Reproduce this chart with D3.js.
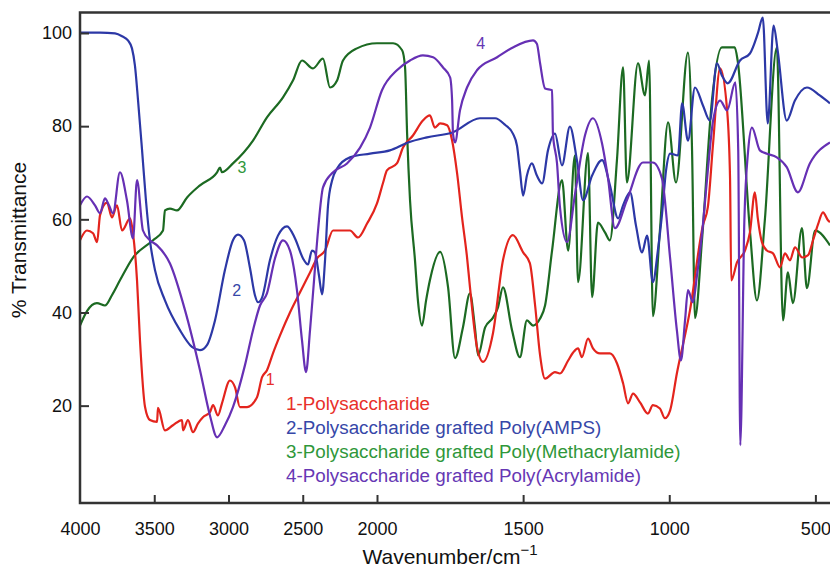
<!DOCTYPE html>
<html lang="en">
<head>
    <meta charset="UTF-8">
    <title>FTIR spectra</title>
    <style>
        body{
            margin: 0;
            overflow: hidden;
            background: #fff;
        }
        text{
            font-family: "Liberation Sans", Arial, Helvetica, sans-serif;
        }
    </style>
</head>
<body>
    <script src="https://d3js.org/d3.v7.min.js"></script>
    <script>
        // spectra: [wavenumber (cm-1), % transmittance]
        const polysaccharide = [
            [4000,55.5],[3953,57.6],[3912,57.0],[3885,55.1],[3865,60.9],[3818,63.6],[3785,60.4],[3751,63.0],
            [3717,57.6],[3663,60.2],[3643,57.0],[3616,46.9],[3596,34.0],[3562,19.7],[3529,16.9],[3481,16.5],
            [3475,19.5],[3428,14.7],[3374,15.8],[3313,16.9],[3306,14.7],[3273,16.9],[3239,14.3],[3205,16.2],
            [3172,17.5],[3125,18.6],[3104,20.1],[3071,17.9],[3044,20.5],[2990,25.4],[2956,23.9],[2923,19.7],
            [2875,19.7],[2808,21.8],[2774,26.1],[2741,27.6],[2700,31.3],[2653,35.1],[2586,40.0],[2519,44.3],
            [2451,48.6],[2404,51.6],[2350,53.3],[2296,57.6],[2236,57.6],[2182,57.6],[2128,56.1],[2067,59.1],
            [2000,63.4],[1979,67.9],[1966,70.5],[1932,72.0],[1911,75.4],[1877,78.0],[1843,81.2],[1819,82.3],
            [1802,79.7],[1784,80.6],[1760,80.2],[1743,76.9],[1726,69.9],[1709,60.4],[1692,51.9],[1682,45.5],
            [1658,32.6],[1637,29.4],[1603,35.6],[1569,51.2],[1535,56.6],[1500,52.9],[1477,50.6],[1459,41.5],
            [1442,30.8],[1425,25.8],[1391,27.2],[1374,26.9],[1346,29.7],[1329,31.4],[1312,32.3],[1299,30.4],
            [1278,34.4],[1261,32.3],[1237,31.2],[1203,31.2],[1179,29.1],[1158,24.8],[1141,20.5],[1124,22.6],
            [1100,20.7],[1073,18.3],[1056,20.1],[1032,19.4],[1015,17.3],[997,19.0],[974,26.9],[929,40.5],
            [885,58.7],[868,62.6],[850,76.3],[826,92.4],[802,83.4],[792,68.8],[788,46.9],[768,50.8],
            [741,53.3],[724,57.2],[707,65.8],[697,60.2],[683,55.1],[666,53.3],[645,52.7],[621,49.7],
            [604,52.7],[587,51.2],[570,54.0],[545,51.8],[525,52.3],[508,55.5],[491,58.9],[474,61.5],
            [457,59.8],[450,59.4]
        ];
        const gAmps = [
            [4000,100.1],[3865,100.1],[3764,99.9],[3717,99.3],[3677,98.4],[3650,96.7],[3630,93.0],[3609,85.5],
            [3582,74.8],[3556,64.1],[3529,55.5],[3495,49.1],[3428,42.6],[3327,36.2],[3246,32.6],[3192,31.9],
            [3145,33.0],[3091,38.3],[3024,49.1],[2970,55.5],[2936,56.7],[2896,55.5],[2855,49.5],[2822,43.7],
            [2801,42.2],[2774,43.2],[2721,51.2],[2667,56.5],[2606,58.5],[2552,55.9],[2498,51.6],[2465,50.3],
            [2438,53.3],[2418,52.9],[2391,48.0],[2370,43.9],[2350,51.2],[2330,62.9],[2303,68.3],[2269,70.9],
            [2182,73.3],[2047,74.1],[1956,74.8],[1894,76.5],[1829,77.6],[1740,78.7],[1648,81.7],[1596,81.7],
            [1562,80.3],[1535,78.4],[1521,75.8],[1511,70.5],[1500,65.1],[1487,69.4],[1470,72.0],[1453,69.4],
            [1435,67.7],[1415,74.8],[1391,78.4],[1367,71.6],[1340,79.9],[1316,72.7],[1295,64.1],[1264,69.4],
            [1230,72.7],[1203,67.3],[1175,60.2],[1158,63.0],[1134,65.8],[1114,58.7],[1093,52.9],[1076,56.5],
            [1056,46.5],[1039,53.3],[1025,60.9],[1011,70.5],[997,74.1],[970,73.7],[956,84.9],[936,76.9],
            [912,88.3],[885,84.5],[861,81.2],[837,93.5],[820,90.9],[800,89.2],[758,94.1],[724,95.6],
            [697,99.9],[680,103.3],[663,80.6],[643,101.6],[629,96.2],[598,81.2],[570,85.5],[529,88.3],
            [485,86.6],[450,84.9]
        ];
        const gMethacrylamide = [
            [4000,37.2],[3953,40.3],[3886,42.0],[3832,41.5],[3785,43.7],[3731,46.9],[3643,51.8],[3508,55.5],
            [3441,57.6],[3428,61.9],[3394,62.3],[3347,61.9],[3279,64.7],[3192,67.3],[3077,70.1],[3057,71.1],
            [3044,70.1],[2970,72.0],[2835,76.9],[2741,81.9],[2633,86.2],[2566,89.8],[2505,94.1],[2431,92.4],
            [2364,94.5],[2316,88.3],[2269,89.8],[2229,94.1],[2135,96.7],[2000,97.8],[1945,97.8],[1914,96.3],
            [1904,92.6],[1897,78.4],[1887,64.1],[1870,51.2],[1860,42.6],[1846,37.2],[1832,42.6],[1819,46.9],
            [1784,53.0],[1757,45.5],[1733,30.2],[1706,36.8],[1682,44.1],[1665,36.8],[1654,30.8],[1630,36.8],
            [1603,38.9],[1586,41.1],[1569,45.4],[1538,36.2],[1511,30.4],[1487,38.3],[1466,37.2],[1442,38.7],
            [1425,41.5],[1401,53.3],[1367,68.4],[1346,53.3],[1323,73.7],[1312,46.5],[1278,74.2],[1264,43.3],
            [1244,59.3],[1220,57.2],[1203,55.5],[1179,72.7],[1158,92.6],[1145,67.9],[1107,93.5],[1083,86.6],
            [1069,94.1],[1056,39.2],[1032,57.6],[1004,80.8],[977,67.9],[936,95.8],[922,74.8],[912,38.8],
            [888,55.5],[854,85.5],[820,96.9],[776,96.9],[766,94.1],[724,57.6],[700,42.6],[673,59.8],
            [632,96.9],[611,38.3],[594,48.6],[577,42.0],[546,58.1],[529,45.2],[501,57.6],[450,54.4]
        ];
        const gAcrylamide = [
            [4000,63.0],[3953,64.9],[3899,63.0],[3865,61.3],[3832,64.5],[3805,63.0],[3778,61.3],[3731,70.1],
            [3684,64.1],[3643,55.9],[3616,68.4],[3576,57.6],[3529,55.5],[3481,54.4],[3394,50.5],[3293,40.5],
            [3192,27.6],[3125,17.9],[3077,13.2],[3024,15.8],[2970,19.7],[2889,28.7],[2835,36.2],[2788,41.5],
            [2741,44.1],[2687,51.6],[2633,55.5],[2586,53.3],[2539,44.8],[2505,34.0],[2478,27.2],[2451,36.2],
            [2424,46.9],[2397,57.6],[2364,66.8],[2303,69.9],[2202,72.0],[2114,75.4],[2047,79.7],[1983,87.7],
            [1932,92.0],[1887,94.1],[1843,95.2],[1808,94.8],[1774,92.6],[1750,90.5],[1743,85.5],[1740,78.4],
            [1733,76.5],[1716,83.4],[1692,88.3],[1658,92.0],[1589,94.8],[1535,96.9],[1466,98.4],[1453,97.7],
            [1442,93.5],[1425,88.1],[1401,87.7],[1398,78.4],[1384,72.0],[1374,62.6],[1350,55.1],[1322,65.6],
            [1288,78.1],[1261,81.7],[1230,76.3],[1210,69.0],[1186,58.1],[1145,64.1],[1090,72.2],[1056,72.2],
            [1025,68.8],[997,51.6],[974,36.2],[960,29.7],[946,38.3],[936,44.8],[919,42.2],[905,48.0],
            [885,58.7],[868,70.5],[850,81.2],[826,85.5],[802,83.4],[774,89.4],[764,74.8],[757,11.5],
            [743,59.8],[730,74.8],[717,79.7],[690,74.8],[666,74.1],[632,73.3],[598,71.2],[560,65.8],
            [519,72.0],[450,76.5]
        ];

        const seriesNames = [
            '1-Polysaccharide',
            '2-Polysaccharide grafted Poly(AMPS)',
            '3-Polysaccharide grafted Poly(Methacrylamide)',
            '4-Polysaccharide grafted Poly(Acrylamide)'
        ];
        const xTicks = [4000, 3500, 3000, 2500, 2000, 1500, 1000, 500];
        const yTicks = [20, 40, 60, 80, 100];

        const lineColors = ['#e3241d', '#2c38a6', '#1c6a22', '#6630b4'];
        const textColors = ['#e8302a', '#3647a8', '#2f973a', '#6637b4'];

        const width = 830, height = 569;
        const plotLeft = 80, plotRight = 830, plotTop = 12.5, plotBottom = 503;

        const svg = d3.select('body').append('svg')
            .attr('width', width)
            .attr('height', height);

        // the wavenumber axis changes scale at 2000 cm-1
        const x = d3.scaleLinear().domain([4000, 2000, 450]).range([plotLeft, 377, plotRight]);
        const y = d3.scaleLinear().domain([-0.9, 104.4]).range([plotBottom, plotTop]);

        svg.append('clipPath').attr('id', 'plot')
            .append('rect')
            .attr('x', plotLeft).attr('y', plotTop)
            .attr('width', plotRight - plotLeft).attr('height', plotBottom - plotTop);

        const line = d3.line()
            .x(d => x(d[0]))
            .y(d => y(d[1]))
            .curve(d3.curveMonotoneX);

        const spectra = [gMethacrylamide, polysaccharide, gAmps, gAcrylamide];
        const spectraColor = [lineColors[2], lineColors[0], lineColors[1], lineColors[3]];

        svg.append('g')
            .attr('clip-path', 'url(#plot)')
            .selectAll('path')
            .data(spectra)
            .enter().append('path')
            .attr('d', line)
            .attr('fill', 'none')
            .attr('stroke', (d, i) => spectraColor[i])
            .attr('stroke-width', 2.2)
            .attr('stroke-linejoin', 'round');

        // axes
        const xAxis = svg.append('g')
            .attr('transform', `translate(0,${plotBottom})`)
            .call(d3.axisBottom(x).tickValues(xTicks).tickFormat(d3.format('d'))
                .tickSizeInner(-8).tickSizeOuter(0).tickPadding(19));
        const yAxis = svg.append('g')
            .attr('transform', `translate(${plotLeft},0)`)
            .call(d3.axisLeft(y).tickValues(yTicks)
                .tickSizeInner(-9).tickSizeOuter(0).tickPadding(8));

        [xAxis, yAxis].forEach(a => {
            a.select('.domain').remove();
            a.selectAll('line').attr('stroke', '#333').attr('stroke-width', 2);
            a.selectAll('text')
                .attr('fill', '#111')
                .style('font-size', '18px')
                .style('font-family', '"Liberation Sans", Arial, sans-serif');
        });
        xAxis.selectAll('.tick').filter(d => d === 4000).select('line').remove();

        // frame: left, bottom and top
        svg.append('path')
            .attr('d', `M${plotRight},${plotTop}H${plotLeft}V${plotBottom}H${plotRight}`)
            .attr('fill', 'none')
            .attr('stroke', '#333')
            .attr('stroke-width', 2.5);

        // axis titles
        const xt = svg.append('text')
            .attr('x', 450)
            .attr('y', 564)
            .attr('text-anchor', 'middle')
            .attr('fill', '#111')
            .style('font-size', '21px')
            .text('Wavenumber/cm');
        xt.append('tspan')
            .attr('dy', -9)
            .style('font-size', '15px')
            .text('\u22121');

        svg.append('text')
            .attr('transform', 'translate(26,240) rotate(-90)')
            .attr('text-anchor', 'middle')
            .attr('fill', '#111')
            .style('font-size', '21px')
            .text('% Transmittance');

        // curve numbers
        const curveLabels = [
            { t: '1', x: 2750, y: 24.5 },
            { t: '2', x: 2975, y: 43.5 },
            { t: '3', x: 2940, y: 70 },
            { t: '4', x: 1660, y: 96.5 }
        ];
        svg.selectAll('.num')
            .data(curveLabels)
            .enter().append('text')
            .attr('class', 'num')
            .attr('x', d => x(d.x))
            .attr('y', d => y(d.y))
            .attr('fill', (d, i) => textColors[i])
            .style('font-size', '16px')
            .text(d => d.t);

        // legend
        svg.selectAll('.legend')
            .data(seriesNames)
            .enter().append('text')
            .attr('class', 'legend')
            .attr('x', 286)
            .attr('y', (d, i) => 410 + i * 24)
            .attr('fill', (d, i) => textColors[i])
            .style('font-size', '18.8px')
            .text(d => d);
    </script>
</body>
</html>
